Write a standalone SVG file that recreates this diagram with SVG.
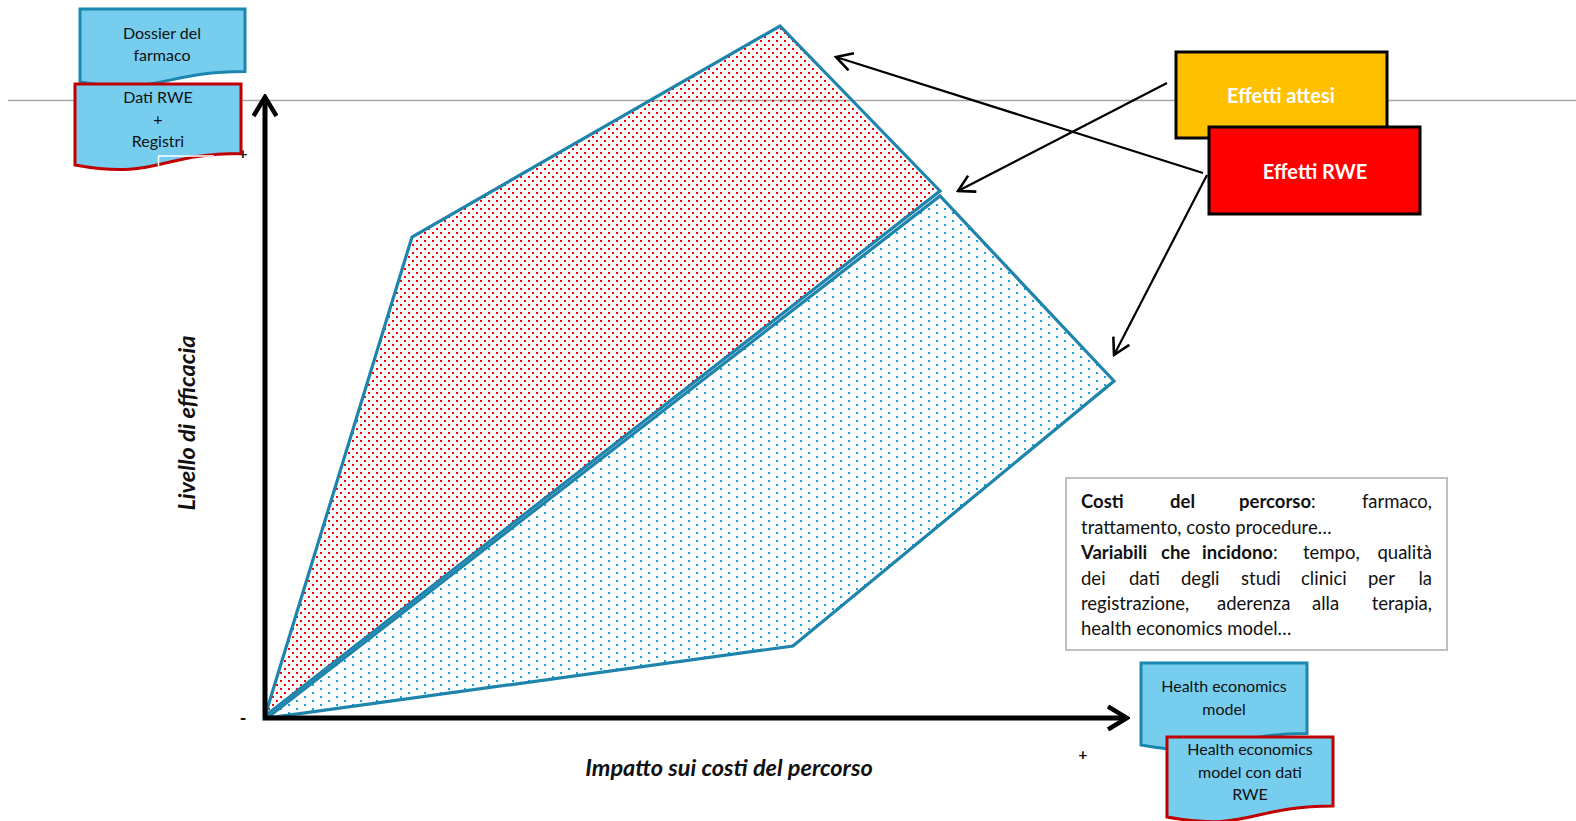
<svg xmlns="http://www.w3.org/2000/svg" width="1576" height="821" viewBox="0 0 1576 821">
  <style>
    .t { font-family: Lato, "Open Sans", "Liberation Sans", sans-serif; fill: #111; }
    .doc { font-size: 16px; text-anchor: middle; }
    .lbl { font-size: 20px; font-weight: bold; fill: #fff; text-anchor: middle; }
    .ax { font-size: 23.5px; font-weight: bold; font-style: italic; text-anchor: middle; }
    .body { font-size: 18.5px; }
    .b { font-weight: bold; }
    .docBlue { fill: #76CDEE; stroke: #1B86B0; stroke-width: 3; }
    .docRed { fill: #76CDEE; stroke: #C00000; stroke-width: 3; }
    .edge { stroke: #1E84AC; stroke-width: 3.2; stroke-linejoin: miter; }
    .conn { stroke: #000; stroke-width: 2.2; fill: none; }
    .axis { stroke: #000; stroke-width: 5; fill: none; }
  </style>
  <defs>
    <pattern id="dotsRed" width="8" height="8" patternUnits="userSpaceOnUse">
      <rect x="0" y="0" width="2" height="2" fill="#FF0000"/>
      <rect x="4" y="4" width="2" height="2" fill="#FF0000"/>
    </pattern>
    <pattern id="dotsBlue" width="16" height="8" patternUnits="userSpaceOnUse">
      <rect x="0" y="0" width="2" height="2" fill="#13A6DD"/>
      <rect x="8" y="4" width="2" height="2" fill="#13A6DD"/>
    </pattern>
    <marker id="open" viewBox="0 0 20 20" refX="18" refY="10" markerWidth="20" markerHeight="20" markerUnits="userSpaceOnUse" orient="auto">
      <path d="M2,1 L18,10 L2,19" fill="none" stroke="#000" stroke-width="2.6"/>
    </marker>
    <marker id="axisHead" viewBox="0 0 24 26" refX="21" refY="13" markerWidth="24" markerHeight="26" markerUnits="userSpaceOnUse" orient="auto">
      <path d="M2,1.5 L21,13 L2,24.5" fill="none" stroke="#000" stroke-width="4.5"/>
    </marker>
  </defs>

  <rect width="1576" height="821" fill="#fff"/>

  <!-- thin reference line across the page -->
  <line x1="8" y1="100.5" x2="1576" y2="100.5" stroke="#A6A6A6" stroke-width="1.3"/>

  <!-- areas -->
  <g id="area-rwe">
    <polygon points="265,716 412,237 780,26 940,191" fill="url(#dotsRed)" class="edge"/>
  </g>
  <g id="area-attesi">
    <polygon points="267,718 940,196 1114,381 793,646" fill="url(#dotsBlue)" class="edge"/>
  </g>

  <!-- axes -->
  <g id="axes">
    <line x1="265" y1="718" x2="265" y2="97" class="axis" marker-end="url(#axisHead)"/>
    <line x1="263" y1="718" x2="1127" y2="718" class="axis" marker-end="url(#axisHead)"/>
    <text class="t" x="243" y="159" font-size="16" font-weight="bold" text-anchor="middle">+</text>
    <text class="t" x="243" y="725" font-size="18" font-weight="bold" text-anchor="middle">-</text>
    <text class="t" x="1083" y="760" font-size="16" font-weight="bold" text-anchor="middle">+</text>
    <text class="t ax" transform="translate(195,423) rotate(-90)">Livello di efficacia</text>
    <text class="t ax" x="729" y="776">Impatto sui costi del percorso</text>
  </g>

  <!-- connectors -->
  <g id="connectors">
    <line x1="1167" y1="83" x2="958" y2="191" class="conn" marker-end="url(#open)"/>
    <line x1="1203" y1="173" x2="836" y2="57" class="conn" marker-end="url(#open)"/>
    <line x1="1207" y1="175" x2="1114" y2="355" class="conn" marker-end="url(#open)"/>
  </g>

  <!-- document sources -->
  <g id="doc-dossier">
    <path class="docBlue" d="M80,9 H245 V71.5 C162.5,71.5 162.5,95.3 80,82 Z"/>
    <text class="t doc" x="162" y="39">Dossier del</text>
    <text class="t doc" x="162" y="61">farmaco</text>
  </g>
  <g id="doc-rwe">
    <path class="docRed" d="M75,84 H241 V153.5 C158,153.5 158,180 75,165 Z"/>
    <text class="t doc" x="158" y="103">Dati RWE</text>
    <text class="t doc" x="158" y="125">+</text>
    <text class="t doc" x="158" y="147">Registri</text>
    <path d="M158.5,166 V156 H214" fill="none" stroke="#fff" stroke-width="1.5"/>
  </g>
  <g id="doc-hem">
    <path class="docBlue" d="M1141,663 H1307 V733.5 C1224,733.5 1224,760 1141,745 Z"/>
    <text class="t doc" x="1224" y="692">Health economics</text>
    <text class="t doc" x="1224" y="715">model</text>
  </g>
  <g id="doc-hem-rwe">
    <path class="docRed" d="M1167,737 H1333 V806 C1250,806 1250,832 1167,817 Z"/>
    <text class="t doc" x="1250" y="755">Health economics</text>
    <text class="t doc" x="1250" y="778">model con dati</text>
    <text class="t doc" x="1250" y="800">RWE</text>
  </g>

  <!-- legend boxes -->
  <g id="box-attesi">
    <rect x="1176" y="52" width="211" height="86" fill="#FFC000" stroke="#000" stroke-width="3"/>
    <text class="t lbl" x="1281" y="103">Effetti attesi</text>
  </g>
  <g id="box-rwe">
    <rect x="1209" y="127" width="211" height="87" fill="#FF0000" stroke="#000" stroke-width="3"/>
    <text class="t lbl" x="1315" y="179">Effetti RWE</text>
  </g>

  <!-- notes (justified by hand) -->
  <g id="note">
    <rect x="1066" y="478" width="381" height="172" fill="#fff" stroke="#BFBFBF" stroke-width="2"/>
    <g class="t body">
      <text y="508"><tspan class="b" x="1081">Costi</tspan><tspan class="b" x="1170">del</tspan><tspan class="b" x="1239">percorso</tspan><tspan>:</tspan></text>
      <text y="508" x="1432" text-anchor="end">farmaco,</text>
      <text y="534" x="1081">trattamento, costo procedure…</text>
      <text y="559"><tspan class="b" x="1081">Variabili</tspan><tspan class="b" x="1161">che</tspan><tspan class="b" x="1202">incidono</tspan><tspan>:</tspan><tspan x="1303">tempo,</tspan></text>
      <text y="559" x="1432" text-anchor="end">qualità</text>
      <text y="585"><tspan x="1081">dei</tspan><tspan x="1129">dati</tspan><tspan x="1181">degli</tspan><tspan x="1241">studi</tspan><tspan x="1301">clinici</tspan><tspan x="1368">per</tspan></text>
      <text y="585" x="1432" text-anchor="end">la</text>
      <text y="610"><tspan x="1081">registrazione,</tspan><tspan x="1217">aderenza</tspan><tspan x="1312">alla</tspan></text>
      <text y="610" x="1432" text-anchor="end">terapia,</text>
      <text y="635" x="1081">health economics model…</text>
    </g>
  </g>
</svg>
